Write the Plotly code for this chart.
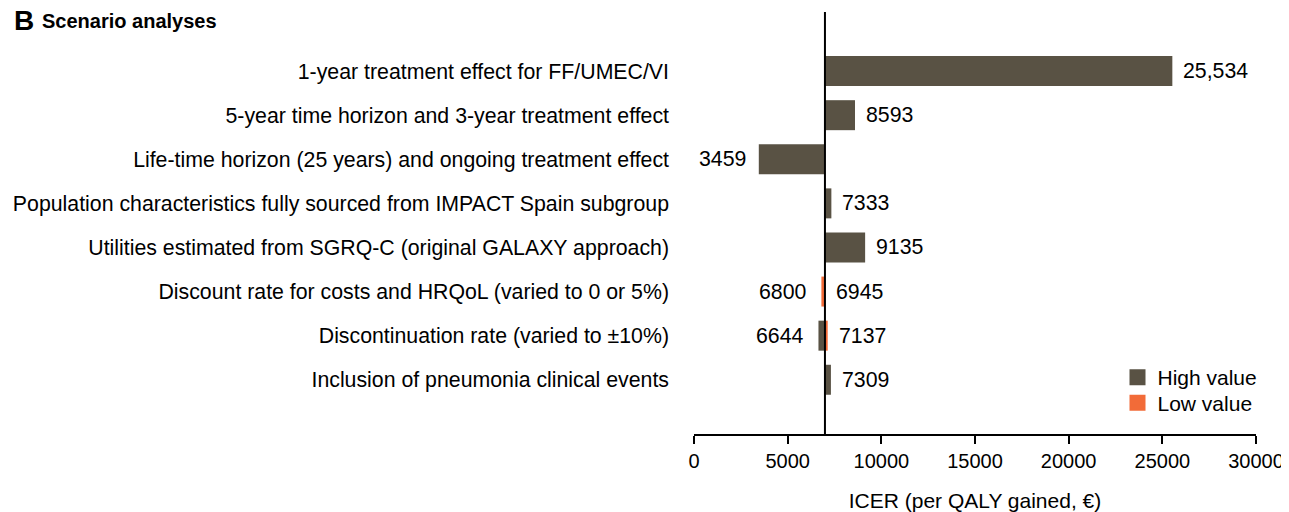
import plotly.graph_objects as go

# ---- data ----
scenarios = [
    "1-year treatment effect for FF/UMEC/VI",
    "5-year time horizon and 3-year treatment effect",
    "Life-time horizon (25 years) and ongoing treatment effect",
    "Population characteristics fully sourced from IMPACT Spain subgroup",
    "Utilities estimated from SGRQ-C (original GALAXY approach)",
    "Discount rate for costs and HRQoL (varied to 0 or 5%)",
    "Discontinuation rate (varied to ±10%)",
    "Inclusion of pneumonia clinical events",
]
high_values = [25534, 8593, 3459, 7333, 9135, 6945, 6644, 7309]
low_values = [None, None, None, None, None, 6800, 7137, None]
base_icer = 6990
x_ticks = [0, 5000, 10000, 15000, 20000, 25000, 30000]

DARK = "#595244"
ORANGE = "#F26B38"
FONT = "Liberation Sans, Arial, sans-serif"
FS = 21.3

# page has an 8px body margin; figure sized so the plot lands where the reference has it
W, H = 1281, 504
ML, MR, MT, MB = 686, 33, 4, 78
PW = W - ML - MR
PH = H - MT - MB

idx = list(range(len(scenarios)))

fig = go.Figure()

def add_series(values, name, color, legend):
    ys, xs = [], []
    for i, v in zip(idx, values):
        if v is None:
            continue
        ys.append(i)
        xs.append(v - base_icer)
    fig.add_trace(go.Bar(
        y=ys, x=xs, base=[base_icer] * len(xs), orientation="h",
        name=name, marker=dict(color=color, line=dict(width=0)),
        width=0.68, showlegend=False, legendgroup=name,
    ))
    # legend swatch (larger square than the default bar swatch)
    fig.add_trace(go.Scatter(
        x=[None], y=[None], mode="markers", name=name, legendgroup=name,
        marker=dict(symbol="square", size=16, color=color), legend=legend,
        showlegend=True, hoverinfo="skip",
    ))

add_series(high_values, "High value", DARK, "legend")
add_series(low_values, "Low value", ORANGE, "legend2")

def fmt(v):
    return f"{v:,}" if v >= 10000 else str(v)

lab_font = dict(size=FS, color="black", family=FONT)
for i, h, l in zip(idx, high_values, low_values):
    vals = [v for v in (h, l) if v is not None]
    if len(vals) == 2:
        lo, hi = min(vals), max(vals)
        fig.add_annotation(x=min(lo, base_icer), y=i, text=fmt(lo), showarrow=False,
                           xanchor="right", xshift=-12, font=lab_font)
        fig.add_annotation(x=max(hi, base_icer), y=i, text=fmt(hi), showarrow=False,
                           xanchor="left", xshift=9, font=lab_font)
    else:
        v = vals[0]
        if v >= base_icer:
            fig.add_annotation(x=v, y=i, text=fmt(v), showarrow=False,
                               xanchor="left", xshift=9, font=lab_font)
        else:
            fig.add_annotation(x=v, y=i, text=fmt(v), showarrow=False,
                               xanchor="right", xshift=-11, font=lab_font)

# base-case vertical line
fig.add_shape(type="line", xref="x", yref="paper", x0=base_icer, x1=base_icer, y0=0, y1=1,
              line=dict(color="black", width=2))

# panel title
fig.add_annotation(xref="paper", yref="paper", x=(4 - ML) / PW, y=1, yshift=-8,
                   xanchor="left", yanchor="middle", showarrow=False,
                   text="<b>B</b>", font=dict(size=28, color="black", family=FONT))
fig.add_annotation(xref="paper", yref="paper", x=(32 - ML) / PW, y=1, yshift=-9,
                   xanchor="left", yanchor="middle", showarrow=False,
                   text="<b>Scenario analyses</b>", font=dict(size=20, color="black", family=FONT))

leg_common = dict(xanchor="left", yanchor="middle", font=dict(size=21),
                  bgcolor="rgba(0,0,0,0)", itemwidth=30)
fig.update_layout(
    width=W, height=H,
    margin=dict(l=ML, r=MR, t=MT, b=MB),
    plot_bgcolor="white", paper_bgcolor="white",
    barmode="overlay",
    font=dict(family=FONT, size=FS, color="black"),
    xaxis=dict(range=[0, 30000], tickvals=x_ticks, ticktext=[str(t) for t in x_ticks],
               showline=True, linecolor="black", linewidth=1.5, ticks="outside",
               ticklen=8, tickwidth=1.5, tickcolor="black", showgrid=False, zeroline=False,
               title=dict(text="ICER (per QALY gained, €)", font=dict(size=21), standoff=23),
               tickfont=dict(size=20), automargin=False),
    yaxis=dict(range=[8.23, -1.34], tickvals=idx, ticktext=scenarios,
               showline=False, showgrid=False, zeroline=False, ticks="",
               ticklabelstandoff=24, tickfont=dict(size=FS), automargin=False),
    legend=dict(x=(1117.5 - 8 - ML) / PW, y=(434 - 377.5) / PH, **leg_common),
    legend2=dict(x=(1117.5 - 8 - ML) / PW, y=(434 - 403) / PH, **leg_common),
)

fig.write_html("out.html", default_width="1265px", default_height="488px")
